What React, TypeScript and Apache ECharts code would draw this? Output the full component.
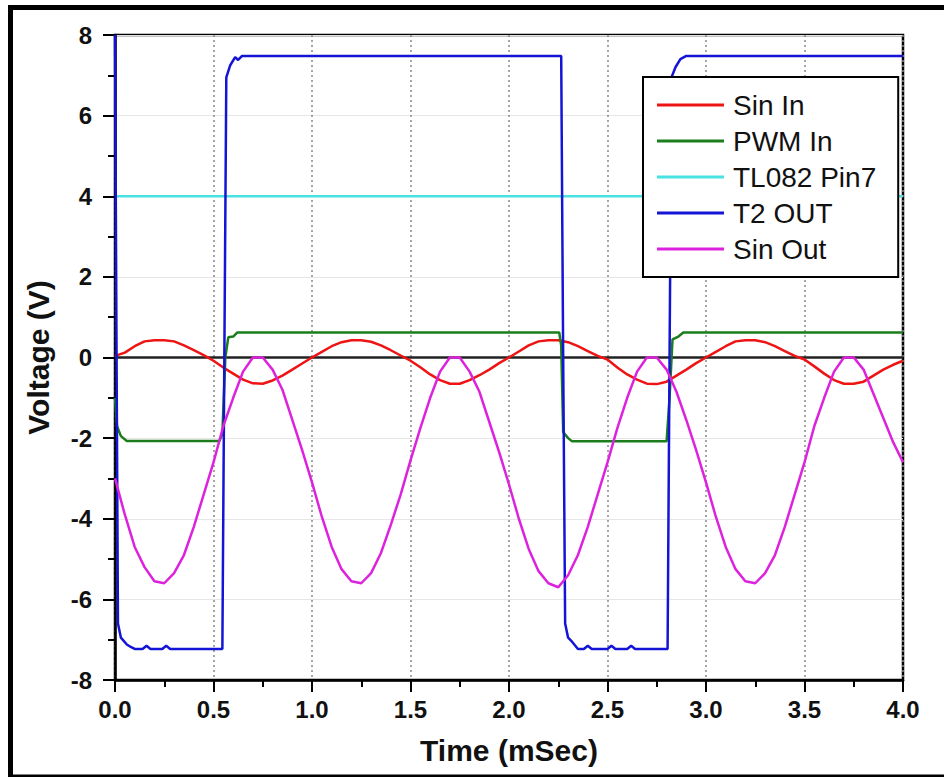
import React, { useEffect, useRef } from "react";
import * as echarts from "echarts";

// Sample grid for the sinusoidal traces (ms)
const SAMPLE_STEP = 0.05;

// Sin In (V), sampled every 0.05 ms from 0 to 4 ms
const sinInValues = [
  0.04, 0.12, 0.28, 0.40, 0.43, 0.43, 0.40, 0.30, 0.18, 0.06, -0.08, -0.25, -0.40, -0.55, -0.64, -0.65, -0.57, -0.45, -0.30, -0.15,
  0.00, 0.14, 0.28, 0.38, 0.43, 0.43, 0.39, 0.30, 0.18, 0.05, -0.08, -0.24, -0.42, -0.56, -0.65, -0.65, -0.56, -0.44, -0.30, -0.14,
  0.00, 0.15, 0.30, 0.40, 0.43, 0.43, 0.38, 0.28, 0.16, 0.04, -0.05, -0.25, -0.42, -0.55, -0.65, -0.66, -0.60, -0.45, -0.30, -0.14,
  0.00, 0.14, 0.28, 0.40, 0.43, 0.43, 0.38, 0.28, 0.16, 0.04, -0.05, -0.22, -0.40, -0.56, -0.65, -0.65, -0.60, -0.45, -0.30, -0.18,
  -0.08,
];

// Sin Out (V), sampled every 0.05 ms from 0 to 4 ms
const sinOutValues = [
  -3.0, -3.9, -4.7, -5.2, -5.55, -5.6, -5.35, -4.9, -4.2, -3.4, -2.6, -1.7, -1.0, -0.35, 0.0, 0.0, -0.3, -0.8, -1.55, -2.3,
  -3.1, -3.95, -4.7, -5.25, -5.55, -5.6, -5.35, -4.85, -4.15, -3.4, -2.55, -1.75, -1.0, -0.35, 0.0, 0.0, -0.35, -0.85, -1.6, -2.35,
  -3.15, -4.0, -4.75, -5.3, -5.6, -5.7, -5.4, -4.9, -4.2, -3.4, -2.6, -1.75, -1.0, -0.35, 0.0, 0.0, -0.3, -0.85, -1.55, -2.3,
  -3.1, -3.95, -4.7, -5.25, -5.55, -5.6, -5.35, -4.9, -4.2, -3.4, -2.6, -1.7, -1.0, -0.35, 0.0, 0.0, -0.3, -0.9, -1.5, -2.1,
  -2.6,
];

// PWM In: [time ms, volts]
const pwmIn = [
  [0, -1.0], [0.01, -1.7], [0.03, -1.95], [0.06, -2.07], [0.53, -2.07], [0.545, -1.9], [0.56, 0.0],
  [0.575, 0.5], [0.6, 0.52], [0.62, 0.62], [2.255, 0.62], [2.265, 0.3], [2.275, -1.85], [2.3, -2.0],
  [2.32, -2.08], [2.8, -2.08], [2.815, -1.0], [2.83, 0.45], [2.86, 0.52], [2.885, 0.62], [4.0, 0.62],
];

// TL082 Pin7: [time ms, volts]
const tl082Pin7 = [[0, 4.0], [4.0, 4.0]];

// T2 OUT: [time ms, volts]
const t2Out = [
  [0, 8.0], [0.008, 0], [0.015, -6.6], [0.03, -6.95], [0.06, -7.12], [0.08, -7.18], [0.1, -7.23],
  [0.14, -7.23], [0.16, -7.15], [0.18, -7.23], [0.24, -7.23], [0.26, -7.15], [0.28, -7.23],
  [0.545, -7.23], [0.555, 0], [0.565, 6.95], [0.585, 7.25], [0.61, 7.45], [0.625, 7.38], [0.645, 7.48],
  [2.265, 7.48], [2.275, 0], [2.285, -6.6], [2.3, -6.95], [2.32, -7.05], [2.35, -7.23], [2.38, -7.23],
  [2.40, -7.15], [2.42, -7.23], [2.5, -7.23], [2.52, -7.15], [2.54, -7.23], [2.6, -7.23], [2.62, -7.15],
  [2.64, -7.23], [2.805, -7.23], [2.815, 0], [2.825, 6.95], [2.845, 7.2], [2.87, 7.4], [2.9, 7.48], [4.0, 7.48],
];

// Reference zero line
const zeroLine = [[0, 0], [4, 0]];

const seriesNames = ["Sin In", "PWM In", "TL082 Pin7", "T2 OUT", "Sin Out"];
const seriesColors = ["#ee1414", "#1b7d1b", "#48e2e2", "#1414d6", "#dd22dd"];

const xMin = 0;
const xMax = 4;
const xInterval = 0.5;
const yMin = -8;
const yMax = 8;
const yInterval = 2;

const FONT = "'Liberation Sans', Arial, sans-serif";

function withTimes(values: number[]) {
  return values.map((v, i) => [Number((i * SAMPLE_STEP).toFixed(3)), v]);
}

export default function App() {
  const ref = useRef<HTMLDivElement>(null);

  useEffect(() => {
    if (!ref.current) return;
    const chart = echarts.init(ref.current, undefined, { renderer: "svg" });
    const lineW = 2.5;
    const mk = (name: string, data: number[][], color: string) => ({
      name,
      type: "line",
      data,
      showSymbol: false,
      symbol: "none",
      clip: true,
      lineStyle: { color, width: lineW },
      itemStyle: { color },
    });
    chart.setOption({
      animation: false,
      backgroundColor: "#ffffff",
      grid: {
        left: 115,
        right: 41,
        top: 35,
        bottom: 97,
        show: true,
        borderColor: "#000",
        borderWidth: 2.5,
      },
      legend: {
        data: seriesNames,
        orient: "vertical",
        left: 643,
        top: 77,
        padding: [14, 22, 14, 14],
        itemGap: 8,
        itemWidth: 67,
        itemHeight: 3,
        icon: "rect",
        backgroundColor: "#fff",
        borderColor: "#000",
        borderWidth: 2,
        textStyle: {
          fontFamily: FONT,
          fontSize: 28,
          lineHeight: 28,
          color: "#111",
          padding: [0, 0, 0, 4],
        },
      },
      xAxis: {
        type: "value",
        min: xMin,
        max: xMax,
        interval: xInterval,
        name: "Time (mSec)",
        nameLocation: "middle",
        nameGap: 55,
        nameTextStyle: { fontFamily: FONT, fontSize: 30, fontWeight: "bold", color: "#111" },
        axisLine: { show: true, onZero: false, lineStyle: { color: "#000", width: 2.5 } },
        axisTick: { show: true, length: 12, lineStyle: { color: "#000", width: 2 } },
        minorTick: { show: true, splitNumber: 2, length: 7, lineStyle: { color: "#000", width: 2 } },
        axisLabel: {
          margin: 17,
          fontFamily: FONT,
          fontSize: 24,
          fontWeight: "bold",
          color: "#111",
          formatter: (v: number) => v.toFixed(1),
        },
        splitLine: { show: true, lineStyle: { color: "#888", width: 1.5, type: [2, 3] } },
      },
      yAxis: {
        type: "value",
        min: yMin,
        max: yMax,
        interval: yInterval,
        name: "Voltage (V)",
        nameLocation: "middle",
        nameGap: 62,
        nameTextStyle: { fontFamily: FONT, fontSize: 30, fontWeight: "bold", color: "#111" },
        axisLine: { show: true, onZero: false, lineStyle: { color: "#000", width: 2.5 } },
        axisTick: { show: true, length: 12, lineStyle: { color: "#000", width: 2 } },
        minorTick: { show: true, splitNumber: 2, length: 7, lineStyle: { color: "#000", width: 2 } },
        axisLabel: {
          margin: 23,
          fontFamily: FONT,
          fontSize: 24,
          fontWeight: "bold",
          color: "#111",
        },
        splitLine: { show: true, lineStyle: { color: "#e6e6e6", width: 1 } },
      },
      graphic: [
        {
          type: "rect",
          silent: true,
          z: 100,
          shape: { x: 10.5, y: 7.5, width: 1000, height: 769.5 },
          style: { fill: "none", stroke: "#000", lineWidth: 5 },
        },
      ],
      series: [
        {
          name: "zero",
          type: "line",
          data: zeroLine,
          showSymbol: false,
          symbol: "none",
          lineStyle: { color: "#222", width: 2.5 },
          z: 1,
        },
        mk(seriesNames[0], withTimes(sinInValues), seriesColors[0]),
        mk(seriesNames[1], pwmIn, seriesColors[1]),
        mk(seriesNames[2], tl082Pin7, seriesColors[2]),
        mk(seriesNames[3], t2Out, seriesColors[3]),
        mk(seriesNames[4], withTimes(sinOutValues), seriesColors[4]),
      ],
    });
    return () => chart.dispose();
  }, []);

  return (
    <div
      ref={ref}
      style={{ position: "fixed", left: 0, top: 0, width: 944, height: 777, background: "#fff" }}
    />
  );
}
